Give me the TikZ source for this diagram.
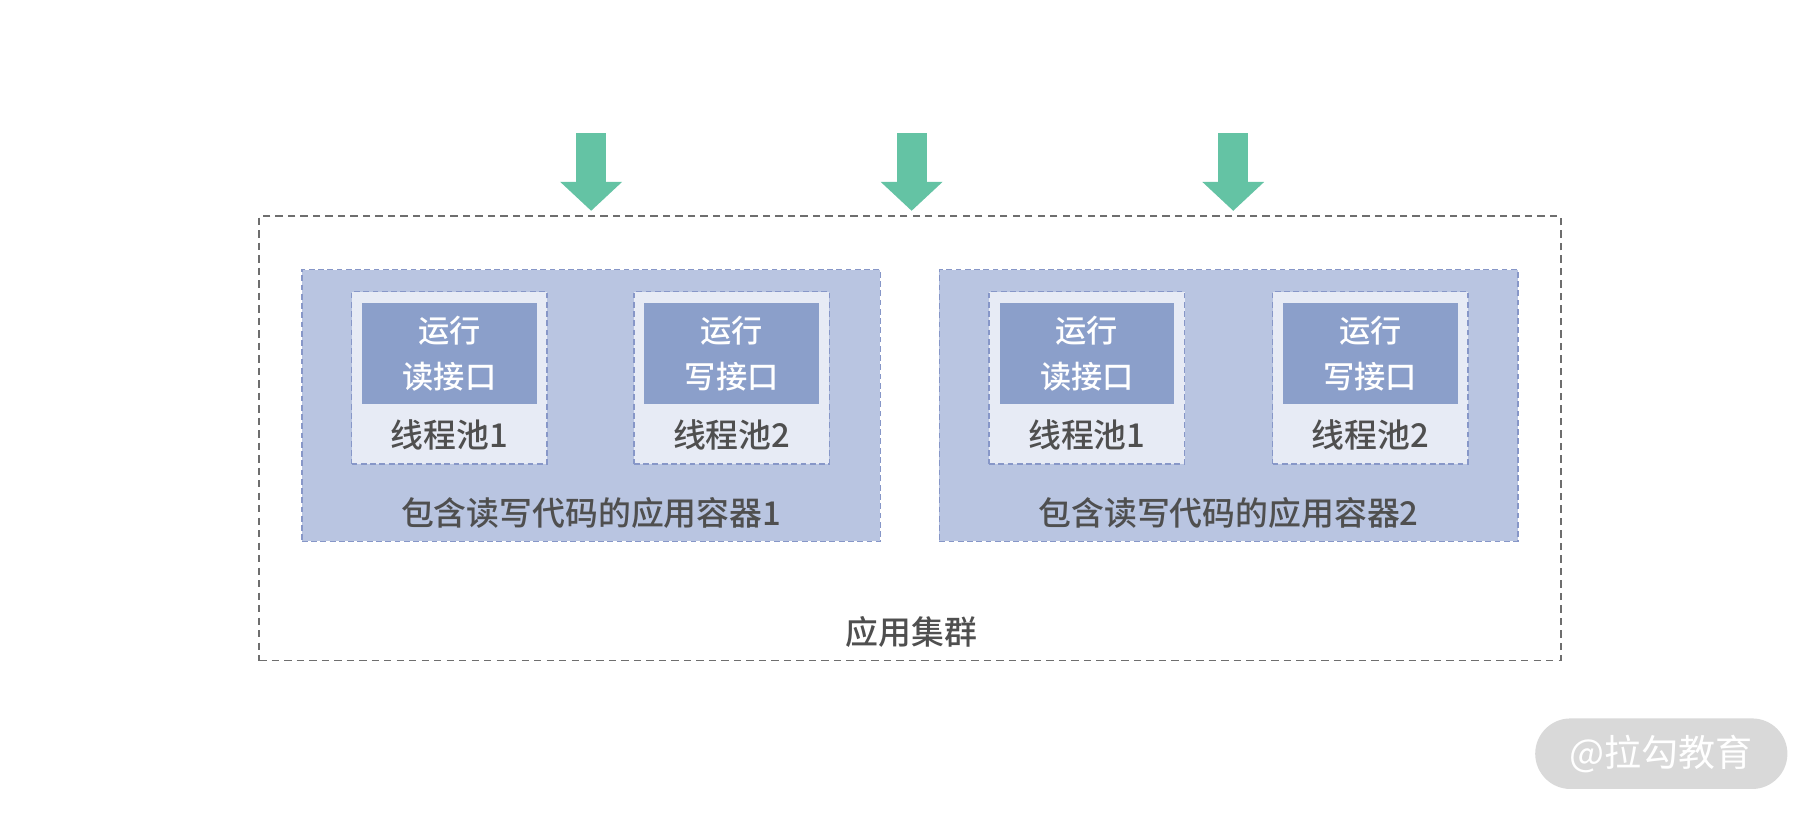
\documentclass[tikz,border=0pt]{standalone}
\usepackage{fontspec}
\setmainfont{Noto Sans CJK SC}
\newfontfamily\cjkmed{Noto Sans CJK SC Medium}
\usetikzlibrary{positioning,arrows.meta}

\definecolor{arrowgreen}{HTML}{64C3A4}
\definecolor{clusterline}{HTML}{6E6E6E}
\definecolor{boxfill}{HTML}{B9C5E1}
\definecolor{boxline}{HTML}{8797C8}
\definecolor{poolfill}{HTML}{E7EBF5}
\definecolor{runfill}{HTML}{8B9FCA}
\definecolor{labelgray}{HTML}{4F4F4F}
\definecolor{markfill}{HTML}{D9D9D9}

\tikzset{
  cluster/.style={draw=clusterline,line width=0.75bp,dash pattern=on 3.2bp off 2.2bp,
    minimum width=562.5bp,minimum height=192bp,inner sep=0pt},
  container/.style={draw=boxline,fill=boxfill,line width=0.65bp,dash pattern=on 2.5bp off 1.5bp,
    minimum width=250bp,minimum height=117.5bp,inner sep=0pt},
  pool/.style={draw=boxline,fill=poolfill,line width=0.65bp,dash pattern=on 2.5bp off 1.5bp,
    minimum width=84.5bp,minimum height=74.5bp,inner sep=0pt},
  runbox/.style={fill=runfill,text=white,minimum width=75.5bp,minimum height=43.5bp,
    inner sep=0pt,align=center,font=\cjkmed\fontsize{13.5bp}{20bp}\selectfont},
  lbl/.style={text=labelgray,inner sep=0pt,font=\cjkmed\fontsize{14.2bp}{16bp}\selectfont},
  inflow/.style={arrowgreen,line width=13bp,-{Triangle[width=26bp,length=12.5bp]}},
}

\begin{document}
\begin{tikzpicture}[line join=miter]
\useasboundingbox (0bp,0bp) rectangle (784bp,352bp);
%%
\node (cluster) at (393.25bp,162.5bp) [cluster] {};
  \node (cluster label) at (394bp,79bp) [lbl] {应用集群};
%% container 1
  \node (app1) at (255.5bp,176.75bp) [container] {};
  \node (app1 label) at (255.5bp,130.5bp) [lbl] {包含读写代码的应用容器1};
  \node (app1 pool1) at (194.25bp,188.75bp) [pool] {};
  \node (app1 run1) at (194.25bp,199.25bp) [runbox] {运行\\读接口};
  \node (app1 pool1 label) at (194.25bp,164bp) [lbl] {线程池1};
  \node (app1 pool2) at (316.25bp,188.75bp) [pool] {};
  \node (app1 run2) at (316.25bp,199.25bp) [runbox] {运行\\写接口};
  \node (app1 pool2 label) at (316.25bp,164bp) [lbl] {线程池2};
%% container 2
  \node (app2) at (531bp,176.75bp) [container] {};
  \node (app2 label) at (531bp,130.5bp) [lbl] {包含读写代码的应用容器2};
  \node (app2 pool1) at (469.75bp,188.75bp) [pool] {};
  \node (app2 run1) at (469.75bp,199.25bp) [runbox] {运行\\读接口};
  \node (app2 pool1 label) at (469.75bp,164bp) [lbl] {线程池1};
  \node (app2 pool2) at (592.25bp,188.75bp) [pool] {};
  \node (app2 run2) at (592.25bp,199.25bp) [runbox] {运行\\写接口};
  \node (app2 pool2 label) at (592.25bp,164bp) [lbl] {线程池2};
%% requests
  \coordinate (req1) at (255.5bp,294.5bp);
  \coordinate (req2) at (394bp,294.5bp);
  \coordinate (req3) at (533bp,294.5bp);
  \draw [inflow] (req1) -- ([yshift=2bp]req1 |- cluster.north);
  \draw [inflow] (req2) -- ([yshift=2bp]req2 |- cluster.north);
  \draw [inflow] (req3) -- ([yshift=2bp]req3 |- cluster.north);
%% watermark
  \node (mark) at (718bp,26.25bp) [fill=markfill,rounded corners=15.25bp,minimum width=109bp,
    minimum height=30.5bp,inner sep=0pt,text=white,font=\fontsize{16bp}{18bp}\selectfont] {@拉勾教育};
%
\end{tikzpicture}
\end{document}
